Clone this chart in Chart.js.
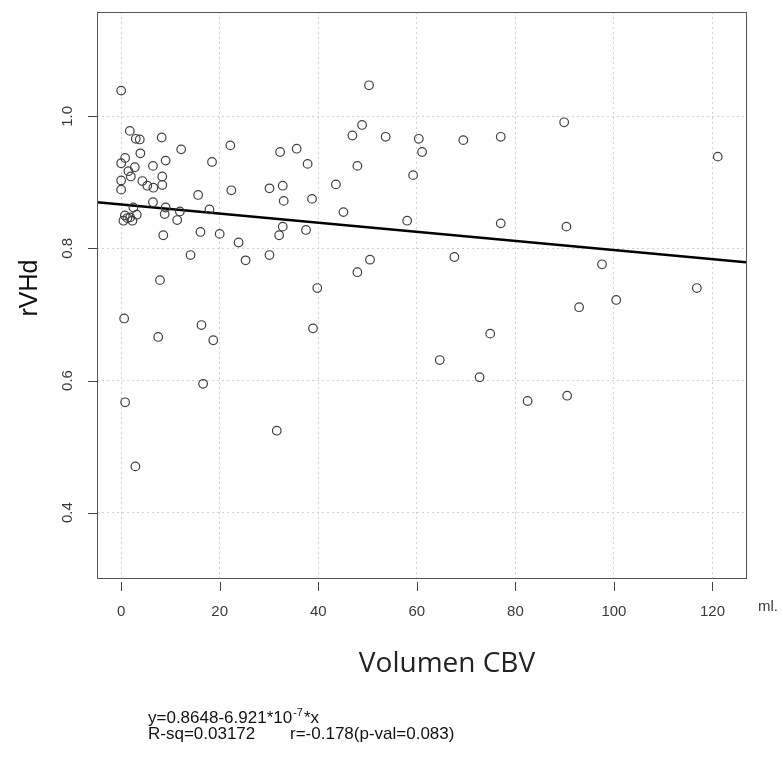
<!DOCTYPE html>
<html><head><meta charset="utf-8">
<script src="https://cdn.jsdelivr.net/npm/chart.js@4.4.1/dist/chart.umd.min.js"></script>
<style>html,body{margin:0;padding:0;background:#fff;} #wrap{position:relative;width:783px;height:767px;}</style>
</head><body><div id="wrap"><canvas id="c" width="783" height="767"></canvas></div>
<script>
// ---- data ----
const volumeX = [0.0,50.3,1.76,2.97,3.78,8.22,22.16,46.93,53.68,48.89,60.40,69.43,77.03,89.9,121.07,
  3.90,12.18,32.26,35.62,61.07,0.81,0.0,9.03,18.44,37.84,47.94,2.77,1.47,6.46,1.96,8.34,59.25,
  0.0,4.30,5.31,6.53,8.34,0.0,15.62,22.36,30.1,32.79,43.58,32.99,38.73,6.46,2.48,9.03,11.92,17.92,
  45.11,0.75,3.17,8.83,1.27,1.82,0.46,2.28,11.37,58.04,77.03,90.36,32.79,37.51,32.06,8.55,16.1,
  20.0,23.84,14.08,25.25,30.1,50.5,67.62,47.94,97.58,7.88,39.8,116.83,100.46,92.93,0.61,16.3,
  38.93,74.89,7.52,18.69,64.65,72.73,16.63,0.81,82.48,90.51,31.58,2.89];
const rvhdY = [1.039,1.047,0.978,0.966,0.965,0.968,0.956,0.971,0.969,0.987,0.966,0.964,0.969,0.991,0.939,
  0.944,0.950,0.946,0.951,0.946,0.937,0.929,0.933,0.931,0.928,0.925,0.923,0.917,0.925,0.909,0.909,0.911,
  0.903,0.902,0.895,0.892,0.896,0.889,0.881,0.888,0.891,0.895,0.897,0.872,0.875,0.870,0.862,0.862,0.856,0.859,
  0.855,0.850,0.851,0.852,0.846,0.847,0.842,0.842,0.843,0.842,0.838,0.833,0.833,0.828,0.820,0.820,0.825,
  0.822,0.809,0.790,0.782,0.790,0.783,0.787,0.764,0.776,0.752,0.740,0.740,0.722,0.711,0.694,0.684,
  0.679,0.671,0.666,0.661,0.631,0.605,0.595,0.567,0.569,0.577,0.524,0.470];
const fitLineX = [-4.9, 126.8];
const fitLineY = [0.870, 0.779];
const xTicks = [0, 20, 40, 60, 80, 100, 120];
const xTickLabels = ['0', '20', '40', '60', '80', '100', '120'];
const yTicks = [0.4, 0.6, 0.8, 1.0];
const yTickLabels = ['0.4', '0.6', '0.8', '1.0'];
const xUnit = 'ml.';
const xTitle = 'Volumen CBV';
const yTitle = 'rVHd';
const eqLine1 = ['y=0.8648-6.921*10', '-7', '*x'];
const eqLine2 = ['R-sq=0.03172', 'r=-0.178(p-val=0.083)'];

const points = volumeX.map((v, i) => ({x: v, y: rvhdY[i]}));
const linePts = fitLineX.map((v, i) => ({x: v, y: fitLineY[i]}));

const decor = {
  id: 'decor',
  afterDraw(chart) {
    const {ctx, chartArea: a, scales: {x, y}} = chart;
    ctx.save();
    ctx.strokeStyle = '#555'; ctx.lineWidth = 1;
    ctx.strokeRect(Math.round(a.left) + 0.5, Math.round(a.top) + 0.5,
      Math.round(a.right - a.left), Math.round(a.bottom - a.top));
    ctx.strokeStyle = '#444';
    xTicks.forEach(v => {
      const px = Math.round(x.getPixelForValue(v)) + 0.5;
      ctx.beginPath(); ctx.moveTo(px, a.bottom + 4); ctx.lineTo(px, a.bottom + 13); ctx.stroke();
    });
    yTicks.forEach(v => {
      const py = Math.round(y.getPixelForValue(v)) + 0.5;
      ctx.beginPath(); ctx.moveTo(a.left - 9, py); ctx.lineTo(a.left, py); ctx.stroke();
    });
    ctx.fillStyle = '#3a3a3a';
    ctx.font = '15px "Liberation Sans", Arial, sans-serif';
    ctx.textAlign = 'center'; ctx.textBaseline = 'middle';
    xTicks.forEach((v, i) => ctx.fillText(xTickLabels[i], x.getPixelForValue(v), 612));
    ctx.fillText(xUnit, 768, 607);
    yTicks.forEach((v, i) => {
      ctx.save(); ctx.translate(68, y.getPixelForValue(v)); ctx.rotate(-Math.PI / 2);
      ctx.fillText(yTickLabels[i], 0, 0); ctx.restore();
    });
    ctx.fillStyle = '#111';
    ctx.font = '25px "Liberation Sans", Arial, sans-serif';
    ctx.save(); ctx.translate(30, 288); ctx.rotate(-Math.PI / 2); ctx.fillText(yTitle, 0, 0); ctx.restore();
    ctx.fillStyle = '#222';
    ctx.font = '28px "Open Sans", sans-serif';
    ctx.fillText(xTitle, 447, 664);
    // equation text
    ctx.textAlign = 'left'; ctx.textBaseline = 'alphabetic';
    ctx.fillStyle = '#111';
    const big = '17px "Liberation Sans", Arial, sans-serif';
    const small = '11px "Liberation Sans", Arial, sans-serif';
    ctx.font = big;
    let px = 148;
    ctx.fillText(eqLine1[0], px, 723); px += ctx.measureText(eqLine1[0]).width;
    ctx.font = small;
    ctx.fillText(eqLine1[1], px + 1, 716); px += ctx.measureText(eqLine1[1]).width + 2;
    ctx.font = big;
    ctx.fillText(eqLine1[2], px, 723);
    ctx.fillText(eqLine2[0], 148, 739);
    ctx.fillText(eqLine2[1], 290, 739);
    ctx.restore();
  }
};

new Chart(document.getElementById('c'), {
  type: 'scatter',
  data: {
    datasets: [
      {data: points, pointStyle: 'circle', pointRadius: 4.3, pointBorderWidth: 1.2,
       borderColor: '#404040', backgroundColor: 'rgba(0,0,0,0)', pointBackgroundColor: 'rgba(0,0,0,0)'},
      {type: 'line', data: linePts, borderColor: '#000', borderWidth: 2.6, pointRadius: 0, fill: false, tension: 0}
    ]
  },
  options: {
    responsive: false, animation: false,
    layout: {padding: {top: 12, right: 37, left: 0, bottom: 0}},
    plugins: {legend: {display: false}, tooltip: {enabled: false}},
    scales: {
      x: {type: 'linear', min: -4.9, max: 126.8,
          afterBuildTicks: s => { s.ticks = xTicks.map(v => ({value: v})); },
          afterFit: s => { s.height = 189; },
          ticks: {display: false},
          grid: {color: '#d2d2d2', lineWidth: 1, drawTicks: false},
          border: {display: false, dash: [2, 3]}},
      y: {type: 'linear', min: 0.301, max: 1.158,
          afterBuildTicks: s => { s.ticks = yTicks.map(v => ({value: v})); },
          afterFit: s => { s.width = 97; },
          ticks: {display: false},
          grid: {color: '#d2d2d2', lineWidth: 1, drawTicks: false},
          border: {display: false, dash: [2, 3]}}
    }
  },
  plugins: [decor]
});
</script></body></html>
